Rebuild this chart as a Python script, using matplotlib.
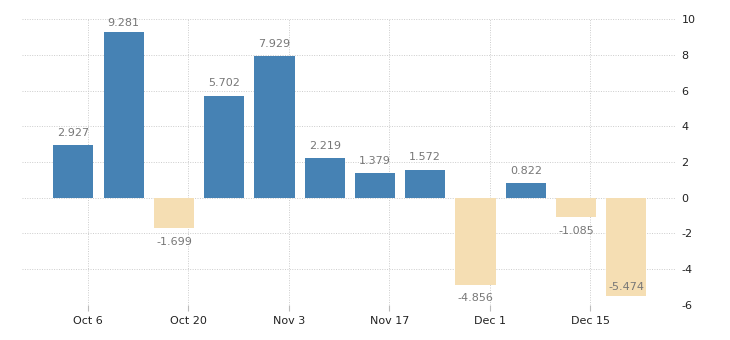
import matplotlib
matplotlib.use("Agg")
import matplotlib.pyplot as plt
from datetime import datetime, timedelta

plt.rcParams["axes.unicode_minus"] = False

# weekly values
dates = [datetime(2019, 10, 4) + timedelta(weeks=i) for i in range(12)]
values = [2.927, 9.281, -1.699, 5.702, 7.929, 2.219, 1.379, 1.572,
          -4.856, 0.822, -1.085, -5.474]
tick_dates = [datetime(2019, 10, 6) + timedelta(weeks=2 * i) for i in range(6)]
tick_labels = ["Oct 6", "Oct 20", "Nov 3", "Nov 17", "Dec 1", "Dec 15"]
yticks = [-6, -4, -2, 0, 2, 4, 6, 8, 10]

POS, NEG = "#4682b4", "#f5deb3"

fig = plt.figure(figsize=(7.3, 3.4), dpi=100)
ax = fig.add_axes([0.030, 0.103, 0.896, 0.841])

colors = [POS if v >= 0 else NEG for v in values]
ax.bar(dates, values, width=5.6, color=colors, zorder=2)

ymin, ymax = -6, 10
for d, v in zip(dates, values):
    if v >= 0:
        y = min(v + 0.7, ymax - 0.22)
    elif v - 0.8 < ymin + 0.3:
        y = v + 0.47   # no room under the bar, write inside it
    else:
        y = v - 0.78
    ax.text(d, y, f"{v:.3f}", ha="center", va="center", fontsize=8,
            color="#777777", zorder=3)

ax.set_ylim(ymin, ymax)
ax.set_xlim(datetime(2019, 9, 26, 20), datetime(2019, 12, 26, 22))
ax.set_yticks(yticks)
ax.set_xticks(tick_dates)
ax.set_xticklabels(tick_labels)
ax.yaxis.tick_right()
ax.tick_params(axis="y", length=0, pad=4, labelsize=8, labelcolor="#222222")
ax.tick_params(axis="x", length=4, color="#bbbbbb", pad=4, labelsize=8,
               labelcolor="#222222")
ax.grid(True, color="#cccccc", linestyle=(0, (1, 1.5)), linewidth=0.7, zorder=0)
for s in ax.spines.values():
    s.set_visible(False)

fig.savefig("out.png", dpi=100)
